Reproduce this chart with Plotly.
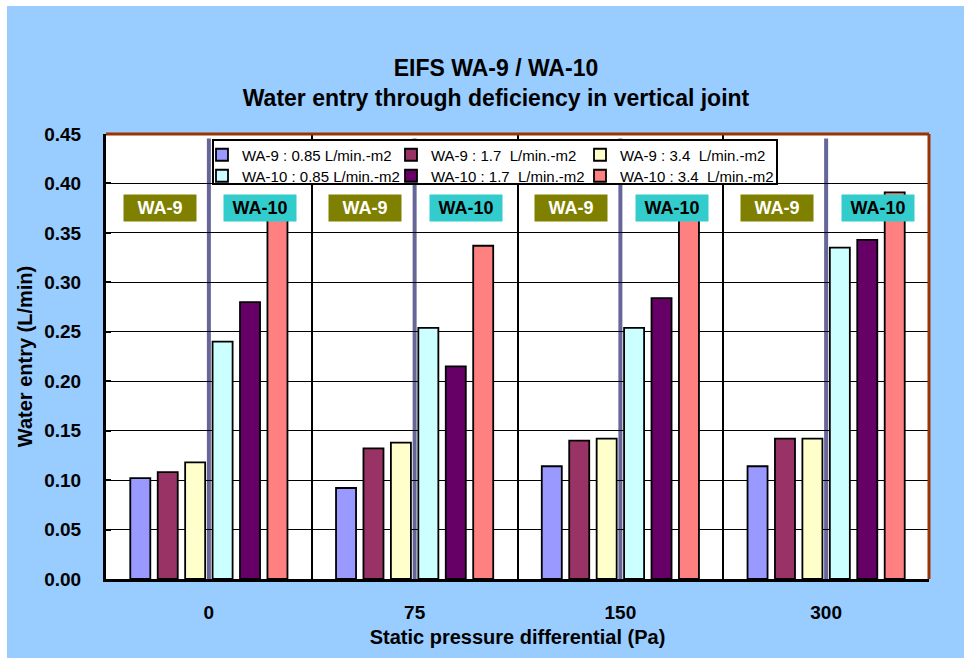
import plotly.graph_objects as go

categories = ["0", "75", "150", "300"]
series_names = [
    "WA-9 : 0.85 L/min.-m2",
    "WA-9 : 1.7  L/min.-m2",
    "WA-9 : 3.4  L/min.-m2",
    "WA-10 : 0.85 L/min.-m2",
    "WA-10 : 1.7  L/min.-m2",
    "WA-10 : 3.4  L/min.-m2",
]
wa9_085 = [0.102, 0.092, 0.114, 0.114]
wa9_17 = [0.108, 0.132, 0.140, 0.142]
wa9_34 = [0.118, 0.138, 0.142, 0.142]
wa10_085 = [0.240, 0.254, 0.254, 0.335]
wa10_17 = [0.280, 0.215, 0.284, 0.343]
wa10_34 = [0.370, 0.337, 0.370, 0.391]
series_values = [wa9_085, wa9_17, wa9_34, wa10_085, wa10_17, wa10_34]
colors = ["#9999FF", "#993366", "#FFFFCC", "#CCFFFF", "#660066", "#FF8080"]
y_ticks = [0.00, 0.05, 0.10, 0.15, 0.20, 0.25, 0.30, 0.35, 0.40, 0.45]

FONT = "Arial, Liberation Sans, sans-serif"
BG = "#99CCFF"
OFF_X, OFF_Y = 7, 6            # page offset of the figure (white strips)
W, H = 964 - OFF_X, 658 - OFF_Y
PLOT_L, PLOT_R, PLOT_T, PLOT_B = 106, 929, 134, 579   # page pixels of plot area
ML, MT = PLOT_L - OFF_X, PLOT_T - OFF_Y
MR, MB = 964 - PLOT_R, 658 - PLOT_B
PW = PLOT_R - PLOT_L
PH = PLOT_B - PLOT_T


def px_x(p):
    return (p - PLOT_L) / PW


def px_y(p):
    return (PLOT_B - p) / PH


fig = go.Figure()
for i, (name, vals, col) in enumerate(zip(series_names, series_values, colors)):
    fig.add_trace(go.Bar(
        x=categories, y=vals, name=name,
        marker=dict(color=col, line=dict(color="black", width=1.8)),
        legend="legend" if i < 3 else "legend2",
    ))
# invisible spacer entries so the last legend column is not clipped
for lg in ["legend", "legend2"]:
    fig.add_trace(go.Scatter(x=[None], y=[None], mode="markers", name=" ",
                             marker=dict(color="rgba(0,0,0,0)", size=1, line=dict(width=0)),
                             legend=lg, hoverinfo="skip"))

shapes = []
# purple divider lines at category centres
for i in range(len(categories)):
    shapes.append(dict(type="line", xref="x", yref="y domain", x0=i, x1=i, y0=0, y1=0.99,
                       line=dict(color="#666699", width=4), layer="below"))
# brown top and right borders
shapes.append(dict(type="line", xref="x domain", yref="y domain", x0=0, x1=1, y0=1, y1=1,
                   line=dict(color="#993300", width=3), layer="above"))
shapes.append(dict(type="line", xref="x domain", yref="y domain", x0=1, x1=1, y0=0, y1=1,
                   line=dict(color="#993300", width=3), layer="above"))
# legend box
shapes.append(dict(type="rect", xref="paper", yref="paper", x0=px_x(213), x1=px_x(777),
                   y0=px_y(184), y1=px_y(140), fillcolor="white",
                   line=dict(color="black", width=2), layer="above"))

annotations = []
for i in range(len(categories)):
    annotations.append(dict(x=i - 0.24, y=0.375, xref="x", yref="y", text="<b>WA-9</b>",
                            showarrow=False, bgcolor="#808000", width=72, height=26, borderpad=0,
                            font=dict(family=FONT, size=18, color="white")))
    annotations.append(dict(x=i + 0.25, y=0.375, xref="x", yref="y", text="<b>WA-10</b>",
                            showarrow=False, bgcolor="#33CCCC", width=72, height=26, borderpad=0,
                            font=dict(family=FONT, size=18, color="black")))

legend_common = dict(orientation="h", xanchor="left", yanchor="middle", x=px_x(202),
                     bgcolor="rgba(0,0,0,0)", borderwidth=0, entrywidth=144,
                     entrywidthmode="pixels", font=dict(family=FONT, size=15, color="black"),
                     itemclick=False, itemdoubleclick=False)

bold_tick = dict(family=FONT, size=19, color="black", weight="bold")

fig.update_layout(
    width=W, height=H,
    margin=dict(l=ML, r=MR, t=MT, b=MB, autoexpand=False),
    paper_bgcolor=BG, plot_bgcolor="white",
    font=dict(family=FONT, color="black"),
    title=dict(text="<b>EIFS WA-9 / WA-10</b><br><b>Water entry through deficiency in vertical joint</b>",
               x=(496 - OFF_X) / W, xanchor="center", y=1 - (76 - OFF_Y) / H, yanchor="middle",
               font=dict(family=FONT, size=23, color="black")),
    barmode="group", bargap=0.2, bargroupgap=0.27,
    showlegend=True,
    legend=dict(legend_common, y=px_y(155)),
    legend2=dict(legend_common, y=px_y(176)),
    xaxis=dict(type="category", tickson="boundaries", showgrid=True, gridcolor="black", gridwidth=2,
               showline=True, linecolor="black", linewidth=3, ticks="inside", ticklen=5,
               tickcolor="black", tickwidth=2, ticklabelstandoff=14,
               tickfont=bold_tick,
               title=dict(text="<b>Static pressure differential (Pa)</b>", standoff=9,
                          font=dict(family=FONT, size=20, color="black")),
               zeroline=False),
    yaxis=dict(range=[0, 0.45], tickvals=y_ticks, tickformat=".2f", showgrid=True,
               gridcolor="black", gridwidth=1, showline=True, linecolor="black", linewidth=3,
               ticks="inside", ticklen=5, tickcolor="black", tickwidth=2, ticklabelstandoff=18,
               tickfont=bold_tick,
               title=dict(text="<b>Water entry (L/min)</b>", standoff=7,
                          font=dict(family=FONT, size=20, color="black")),
               zeroline=False),
    shapes=shapes,
    annotations=annotations,
)

fig.write_html(
    "out.html",
    config={"displayModeBar": False},
    post_script=(
        "var h=document.documentElement, b=document.body;"
        "h.style.overflow='hidden'; b.style.overflow='hidden';"
        "h.style.background='%s'; b.style.background='%s';"
        "b.style.margin='0'; b.style.borderLeft='%dpx solid white';"
        "b.style.borderTop='%dpx solid white';" % (BG, BG, OFF_X, OFF_Y)
    ),
)
